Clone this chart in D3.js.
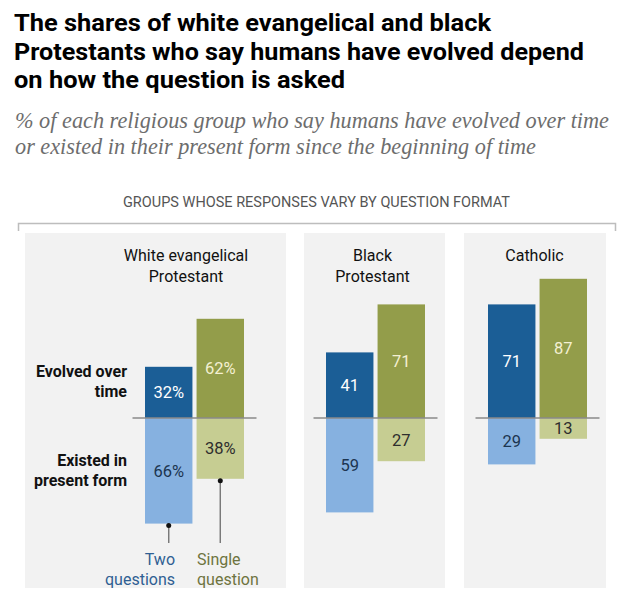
<!DOCTYPE html>
<html>
<head>
<meta charset="utf-8">
<script src="https://cdn.jsdelivr.net/npm/d3@7"></script>
<style>
  html, body { margin: 0; padding: 0; background: #fff; }
  svg { display: block; }
</style>
</head>
<body>
<svg id="chart" width="634" height="615"></svg>
<script>
// ---- data ----
const titleLines = [
  "The shares of white evangelical and black",
  "Protestants who say humans have evolved depend",
  "on how the question is asked"
];
const subtitleLines = [
  "% of each religious group who say humans have evolved over time",
  "or existed in their present form since the beginning of time"
];
const header = "GROUPS WHOSE RESPONSES VARY BY QUESTION FORMAT";
const groups = [["White evangelical", "Protestant"], ["Black", "Protestant"], ["Catholic"]];
const series = ["two", "single"];
const seriesNames = [["Two", "questions"], ["Single", "question"]];
const rowLabels = [["Evolved over", "time"], ["Existed in", "present form"]];
const twoEvolved = [32, 41, 71];
const twoExisted = [66, 59, 29];
const singleEvolved = [62, 71, 87];
const singleExisted = [38, 27, 13];

// ---- styles ----
const colors = {
  two:    { pos: "#1b5e96", neg: "#86b1e0", posText: "#ffffff", negText: "#1c3550", legend: "#2f5f93" },
  single: { pos: "#939d4a", neg: "#c6cd92", posText: "#f4f0d2", negText: "#2e2e2e", legend: "#6e7440" }
};
const font = "Roboto, 'Liberation Sans', Arial, sans-serif";

const svg = d3.select("#chart");

// title
svg.append("g").selectAll("text").data(titleLines).join("text")
  .attr("x", 14).attr("y", (d, i) => 31 + i * 28.5)
  .attr("font-family", font).attr("font-weight", 700).attr("font-size", 23.5)
  .attr("fill", "#000")
  .attr("textLength", (d, i) => [477, 570, 331][i]).attr("lengthAdjust", "spacingAndGlyphs")
  .text(d => d);

// subtitle
svg.append("g").selectAll("text").data(subtitleLines).join("text")
  .attr("x", 15).attr("y", (d, i) => 128 + i * 25.5)
  .attr("font-family", "'Liberation Serif', 'Times New Roman', serif").attr("font-style", "italic").attr("font-size", 22.5)
  .attr("fill", "#6d6d6d")
  .attr("textLength", (d, i) => [594, 521][i]).attr("lengthAdjust", "spacingAndGlyphs")
  .text(d => d);

// header
svg.append("text")
  .attr("x", 123).attr("y", 207)
  .attr("font-family", font).attr("font-size", 14).attr("fill", "#555")
  .attr("textLength", 387).attr("lengthAdjust", "spacingAndGlyphs")
  .text(header);

// bracket
svg.append("path")
  .attr("d", "M18.5,231V223.5H615.5V231")
  .attr("fill", "none").attr("stroke", "#bdbdbd").attr("stroke-width", 1.5);

// ---- scales ----
const y = d3.scaleLinear().domain([-100, 100]).range([578, 258]);
const panels = [
  { x0: 25, x1: 286, bars: [145, 244] },
  { x0: 304, x1: 445, bars: [326, 425] },
  { x0: 464, x1: 606, bars: [488, 587] }
];
const panelTop = 233, panelBottom = 588;

const values = {
  two: { pos: twoEvolved, neg: twoExisted },
  single: { pos: singleEvolved, neg: singleExisted }
};

panels.forEach((p, gi) => {
  const g = svg.append("g");
  g.append("rect").attr("x", p.x0).attr("y", panelTop)
    .attr("width", p.x1 - p.x0).attr("height", panelBottom - panelTop)
    .attr("fill", "#f2f2f2");

  const x = d3.scaleBand().domain(series).range(p.bars).paddingInner(0.08);
  const cx = gi === 0 ? 186 : (p.bars[0] + p.bars[1]) / 2 - 3;

  // group title
  g.append("text").attr("text-anchor", "middle")
    .attr("font-family", font).attr("font-size", 16).attr("fill", "#111")
    .selectAll("tspan").data(groups[gi]).join("tspan")
    .attr("x", cx).attr("y", (d, i) => 261 + i * 21).text(d => d);

  series.forEach(s => {
    const vp = values[s].pos[gi], vn = values[s].neg[gi];
    // evolved (up)
    g.append("rect").attr("x", x(s)).attr("width", x.bandwidth())
      .attr("y", y(vp)).attr("height", y(0) - y(vp)).attr("fill", colors[s].pos);
    // existed (down)
    g.append("rect").attr("x", x(s)).attr("width", x.bandwidth())
      .attr("y", y(0)).attr("height", y(-vn) - y(0)).attr("fill", colors[s].neg);
    const suffix = gi === 0 ? "%" : "";
    g.append("text").attr("x", x(s) + x.bandwidth() / 2).attr("y", (y(vp) + y(0)) / 2)
      .attr("dy", "0.36em").attr("text-anchor", "middle")
      .attr("font-family", font).attr("font-size", 16.5).attr("fill", colors[s].posText)
      .text(vp + suffix);
    g.append("text").attr("x", x(s) + x.bandwidth() / 2).attr("y", (y(-vn) + y(0)) / 2)
      .attr("dy", "0.36em").attr("text-anchor", "middle")
      .attr("font-family", font).attr("font-size", 16.5).attr("fill", colors[s].negText)
      .text(vn + suffix);
  });

  // zero line
  g.append("line").attr("x1", p.bars[0] - 12.5).attr("x2", p.bars[1] + 12.5)
    .attr("y1", y(0)).attr("y2", y(0)).attr("stroke", "#8a8a8a").attr("stroke-width", 1.5);

  if (gi === 0) {
    // row labels
    rowLabels.forEach((lines, ri) => {
      const base = ri === 0 ? 377 : 466;
      g.append("text").attr("text-anchor", "end")
        .attr("font-family", font).attr("font-weight", 700).attr("font-size", 16).attr("fill", "#111")
        .selectAll("tspan").data(lines).join("tspan")
        .attr("x", 127).attr("y", (d, i) => base + i * 20).text(d => d);
    });
    // legend pointers
    series.forEach((s, si) => {
      const vn = values[s].neg[gi];
      const px = x(s) + x.bandwidth() / 2;
      g.append("line").attr("x1", px).attr("x2", px)
        .attr("y1", y(-vn) + 2).attr("y2", 543)
        .attr("stroke", "#7a7a7a").attr("stroke-width", 1.5);
      g.append("circle").attr("cx", px).attr("cy", y(-vn) + 2).attr("r", 2.5).attr("fill", "#111");
      g.append("text")
        .attr("text-anchor", si === 0 ? "end" : "start")
        .attr("font-family", font).attr("font-size", 16).attr("fill", colors[s].legend)
        .selectAll("tspan").data(seriesNames[si]).join("tspan")
        .attr("x", si === 0 ? 175 : 197).attr("y", (d, i) => 565 + i * 20).text(d => d);
    });
  }
});
</script>
</body>
</html>
